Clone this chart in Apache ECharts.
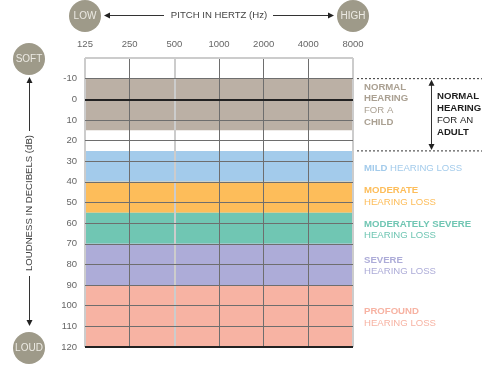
<!DOCTYPE html>
<html><head><meta charset="utf-8">
<script src="https://cdn.jsdelivr.net/npm/echarts@6/dist/echarts.min.js"></script>
<style>html,body{margin:0;padding:0;background:#fff}#c{width:495px;height:371px}</style>
</head><body><div id="c"></div>
<script>
var freqs = ['125','250','500','1000','2000','4000','8000'];
var dbTicks = [-10,0,10,20,30,40,50,60,70,80,90,100,110,120];
var bandNames = ['normalChild','mild','moderate','modSevere','severe','profound'];
var bandFrom = [-10,25,40,55,70,90];
var bandTo   = [15,40,55,70,90,120];
var bandColors = ['#bbb0a5','#a3cbeb','#fdbd5a','#70c6b3','#adacd8','#f7b3a3'];
var adultRange = [-10,25];
var FONT = '"Liberation Sans", Arial, sans-serif';
var grid = '#6e6e6e', light = '#cccccc';

var chart = echarts.init(document.getElementById('c'), null, {renderer:'canvas'});

var areas = bandFrom.map(function(f,i){
  return [{yAxis:f, itemStyle:{color:bandColors[i], opacity:1}}, {yAxis:bandTo[i]}];
});
var hLines = dbTicks.map(function(v){
  var heavy = (v===0 || v===120);
  return {yAxis:v, lineStyle:{color: heavy ? '#222' : grid, width: heavy ? 2 : 1, type:'solid'}};
});
hLines.push({yAxis:-20, lineStyle:{color:light, width:2, type:'solid'}});
var vLines = freqs.map(function(f,i){
  var lite = (i===0 || i===2 || i===6);
  return {xAxis:i, lineStyle:{color: lite ? light : grid, width: lite ? 2 : 1, type:'solid'}};
});

chart.setOption({
  animation:false,
  grid:{left:85, right:142, top:58, bottom:24},
  xAxis:{type:'value', min:0, max:6, interval:1, position:'top',
    axisLine:{show:false}, axisTick:{show:false}, splitLine:{show:false},
    axisLabel:{margin:9, color:'#666', fontSize:9.5, fontFamily:FONT,
      formatter:function(v){return freqs[v];}}},
  yAxis:{type:'value', inverse:true, min:-20, max:120, interval:10,
    axisLine:{show:false}, axisTick:{show:false}, splitLine:{show:false},
    axisLabel:{margin:8, color:'#666', fontSize:9.5, fontFamily:FONT,
      formatter:function(v){return v===-20?'':String(v);}}},
  series:[
    {type:'line', data:[], z:1, silent:true,
     markArea:{silent:true, data:areas}},
    {type:'line', data:[], z:3, silent:true,
     markLine:{silent:true, symbol:['none','none'], label:{show:false},
       data: vLines.concat(hLines)}}
  ]
});

var yTop = chart.convertToPixel({yAxisIndex:0}, adultRange[0]);
var yBot = chart.convertToPixel({yAxisIndex:0}, adultRange[1]);
var xR = chart.convertToPixel({xAxisIndex:0}, 6);
var xL = chart.convertToPixel({xAxisIndex:0}, 0);

var circ = '#9e9a89';
function circle(cx, cy, txt){
  return {type:'group', children:[
    {type:'circle', shape:{cx:cx, cy:cy, r:16}, style:{fill:circ}},
    {type:'text', x:cx, y:cy, style:{text:txt, fill:'#eceae3', fontSize:10, fontFamily:FONT, align:'center', verticalAlign:'middle'}}
  ]};
}
function arrowHead(x, y, dir){
  var s = 3, l = 6, pts;
  if(dir==='up') pts=[[x,y],[x-s,y+l],[x+s,y+l]];
  if(dir==='down') pts=[[x,y],[x-s,y-l],[x+s,y-l]];
  if(dir==='left') pts=[[x,y],[x+l,y-s],[x+l,y+s]];
  if(dir==='right') pts=[[x,y],[x-l,y-s],[x-l,y+s]];
  return {type:'polygon', shape:{points:pts}, style:{fill:'#222'}};
}
function line(x1,y1,x2,y2,dash){
  return {type:'line', shape:{x1:x1,y1:y1,x2:x2,y2:y2}, style:{stroke: dash?'#333':'#333', lineWidth:1, lineDash: dash?[2,2]:null}};
}
function rt(x, y, lines, color){
  // lines: array of [text, bold]
  var children = [];
  lines.forEach(function(ln, i){
    var parts = ln, xx = x;
    children.push({type:'text', x:x, y:y + i*11.8, style:{
      rich:{b:{fontWeight:'bold', fill:color, fontSize:9.6, fontFamily:FONT},
            n:{fontWeight:'normal', fill:color, fontSize:9.6, fontFamily:FONT}},
      text: parts.map(function(p){return '{'+(p[1]?'b':'n')+'|'+p[0]+'}';}).join(''),
      verticalAlign:'middle'}});
  });
  return {type:'group', children:children};
}

var midX = (xL + xR)/2;
chart.setOption({graphic:[
  circle(xL, 16, 'LOW'), circle(xR, 16, 'HIGH'),
  circle(29, 59, 'SOFT'), circle(29, 348, 'LOUD'),
  line(xL+20, 15.5, 164, 15.5), arrowHead(xL+19, 15.5, 'left'),
  line(273, 15.5, xR-20, 15.5), arrowHead(xR-19, 15.5, 'right'),
  {type:'text', x:midX, y:15.5, style:{text:'PITCH IN HERTZ (Hz)', fill:'#444', fontSize:9.6, fontFamily:FONT, align:'center', verticalAlign:'middle'}},
  line(29.5, 78, 29.5, 131), arrowHead(29.5, 77, 'up'),
  line(29.5, 276, 29.5, 325), arrowHead(29.5, 326, 'down'),
  {type:'text', x:29.5, y:203, rotation:Math.PI/2, style:{text:'LOUDNESS IN DECIBELS (dB)', fill:'#444', fontSize:9.6, fontFamily:FONT, align:'center', verticalAlign:'middle'}},
  line(xR+4, yTop, 482, yTop, true), line(xR+4, yBot, 482, yBot, true),
  line(431.5, yTop+4, 431.5, yBot-4), arrowHead(431.5, yTop+1, 'up'), arrowHead(431.5, yBot-1, 'down'),
  rt(364, 87, [[['NORMAL',1]],[['HEARING',1]],[['FOR A',0]],[['CHILD',1]]], '#aaa092'),
  rt(437, 96.5, [[['NORMAL',1]],[['HEARING',1]],[['FOR AN',0]],[['ADULT',1]]], '#1e1e1e'),
  rt(364, 168, [[['MILD',1],[' HEARING LOSS',0]]], '#a3cbeb'),
  rt(364, 190.5, [[['MODERATE',1]],[['HEARING LOSS',0]]], '#fdbd5a'),
  rt(364, 224, [[['MODERATELY SEVERE',1]],[['HEARING LOSS',0]]], '#70c6b3'),
  rt(364, 260, [[['SEVERE',1]],[['HEARING LOSS',0]]], '#adacd8'),
  rt(364, 311.5, [[['PROFOUND',1]],[['HEARING LOSS',0]]], '#f7b3a3')
]});
</script></body></html>
